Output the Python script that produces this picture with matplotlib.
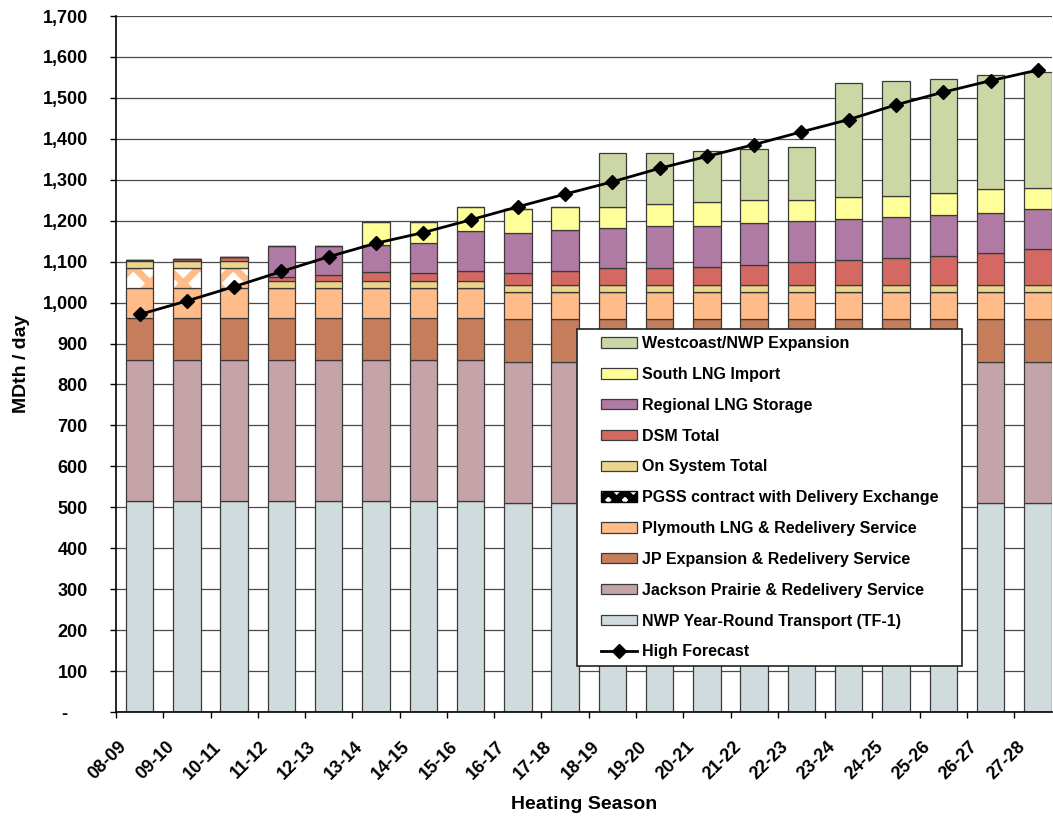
import numpy as np
import matplotlib
matplotlib.use("Agg")
import matplotlib.pyplot as plt
from matplotlib.patches import Patch, Rectangle
from matplotlib.ticker import FixedLocator, FuncFormatter

plt.rcParams['font.family'] = ['Liberation Sans', 'DejaVu Sans']
plt.rcParams['font.weight'] = 'bold'
plt.rcParams['hatch.linewidth'] = 5.0

seasons = ['08-09', '09-10', '10-11', '11-12', '12-13', '13-14', '14-15', '15-16', '16-17', '17-18',
           '18-19', '19-20', '20-21', '21-22', '22-23', '23-24', '24-25', '25-26', '26-27', '27-28']

# MDth/day by resource, bottom of the stack first
nwp = [515] * 8 + [510] * 12
jackson = [345] * 20
jp_exp = [103] * 8 + [104] * 12
plymouth = [73, 73, 73, 72, 72, 72, 72, 72] + [66] * 12
pgss = [48, 48, 48] + [0] * 17
on_system = [17] * 20
dsm = [2, 5, 10, 10, 16, 22, 21, 26, 31, 36, 42, 42, 46, 51, 56, 62, 68, 73, 78, 88]
regional_lng = [0, 0, 0, 75, 69, 67, 72, 98, 98, 99, 97, 103, 99, 101, 101, 100, 98, 98, 98, 99]
south_lng = [0, 0, 0, 0, 0, 57, 53, 58, 58, 57, 53, 53, 58, 56, 51, 53, 52, 54, 59, 52]
westcoast = [0] * 10 + [131, 125, 125, 125, 131, 280, 282, 280, 280, 282]

high_forecast = [971, 1004, 1039, 1076, 1112, 1145, 1171, 1202, 1234, 1265,
                 1295, 1328, 1357, 1386, 1417, 1447, 1483, 1514, 1542, 1568]

stack = [
    ('NWP Year-Round Transport (TF-1)', nwp, '#CFDBDD'),
    ('Jackson Prairie & Redelivery Service', jackson, '#C4A4A8'),
    ('JP Expansion & Redelivery Service', jp_exp, '#C67D5B'),
    ('Plymouth LNG & Redelivery Service', plymouth, '#FFBB88'),
    ('PGSS contract with Delivery Exchange', pgss, '#FFBB88'),
    ('On System Total', on_system, '#EBD58C'),
    ('DSM Total', dsm, '#D46963'),
    ('Regional LNG Storage', regional_lng, '#AF7AA3'),
    ('South LNG Import', south_lng, '#FFFF99'),
    ('Westcoast/NWP Expansion', westcoast, '#CCD7A6'),
]

fig = plt.figure(figsize=(10.53, 8.21), dpi=100)
ax = fig.add_axes([116 / 1053, 1 - 712 / 821, (1052 - 116) / 1053, (712 - 16) / 821])

x = np.arange(len(seasons))
width = 0.58
bottom = np.zeros(len(seasons))
handles = []
for label, vals, color in stack:
    vals = np.array(vals, dtype=float)
    if label.startswith('PGSS'):
        # white diamonds left by a thick orange cross-hatch
        ax.bar(x, vals, width, bottom=bottom, color='white', edgecolor=color,
               hatch='x', linewidth=0, zorder=2)
        ax.bar(x, vals, width, bottom=bottom, fill=False, edgecolor='#3a3a3a',
               linewidth=0.9, zorder=2)
        handles.append(Patch(facecolor='white', edgecolor='black', hatch='xx', label=label))
    else:
        ax.bar(x, vals, width, bottom=bottom, color=color, edgecolor='#3a3a3a',
               linewidth=0.9, zorder=2)
        handles.append(Patch(facecolor=color, edgecolor='#3a3a3a', linewidth=0.9, label=label))
    bottom += vals

line, = ax.plot(x, high_forecast, color='black', linewidth=2, marker='D',
                markersize=7, zorder=4, label='High Forecast')

ax.set_ylim(0, 1700)
ax.set_xlim(-0.5, 19.3)
ax.set_yticks(np.arange(0, 1701, 100))
ax.yaxis.set_major_formatter(FuncFormatter(lambda v, p: '-    ' if v == 0 else f'{int(v):,}'))
ax.grid(axis='y', color='#4a4a4a', linewidth=0.9, zorder=0)
ax.set_axisbelow(True)
ax.tick_params(axis='y', direction='out', length=4.3, width=1, labelsize=13, pad=16)

# ticks between seasons, labels shifted left of each bar
ax.xaxis.set_major_locator(FixedLocator(np.arange(-0.5, 19, 1.0)))
ax.xaxis.set_major_formatter(FuncFormatter(lambda v, p: ''))
ax.tick_params(axis='x', which='major', direction='out', length=4.3, width=1)
ax.xaxis.set_minor_locator(FixedLocator(x - 0.2))
ax.set_xticklabels(seasons, minor=True, rotation=45, ha='right', fontsize=13)
ax.tick_params(axis='x', which='minor', length=0, pad=19)

for s in ['top', 'right']:
    ax.spines[s].set_visible(False)
ax.spines['left'].set_linewidth(1.2)
ax.spines['bottom'].set_linewidth(1.2)

ax.set_ylabel('MDth / day', fontsize=14, fontweight='bold')
ax.yaxis.set_label_coords(-0.092, 0.5)
ax.set_xlabel('Heating Season', fontsize=14, fontweight='bold')
ax.xaxis.set_label_coords(0.5, -(796 - 712) / (712 - 16))

# legend box
ax.add_patch(Rectangle((577 / 1053, 1 - 666 / 821), (962 - 577) / 1053, (666 - 329) / 821,
                       transform=fig.transFigure, facecolor='white', edgecolor='#222222',
                       linewidth=1.2, zorder=10, clip_on=False))
leg_handles = handles[::-1] + [line]
leg = ax.legend(handles=leg_handles, loc='upper left', bbox_to_anchor=(598 / 1053, 1 - 333 / 821),
                bbox_transform=fig.transFigure, frameon=False, fontsize=11.5,
                handlelength=2.25, handleheight=0.62, handletextpad=0.31,
                labelspacing=0.99, borderpad=0.2, borderaxespad=0)
leg.set_zorder(11)

fig.savefig('out.png', dpi=100)
